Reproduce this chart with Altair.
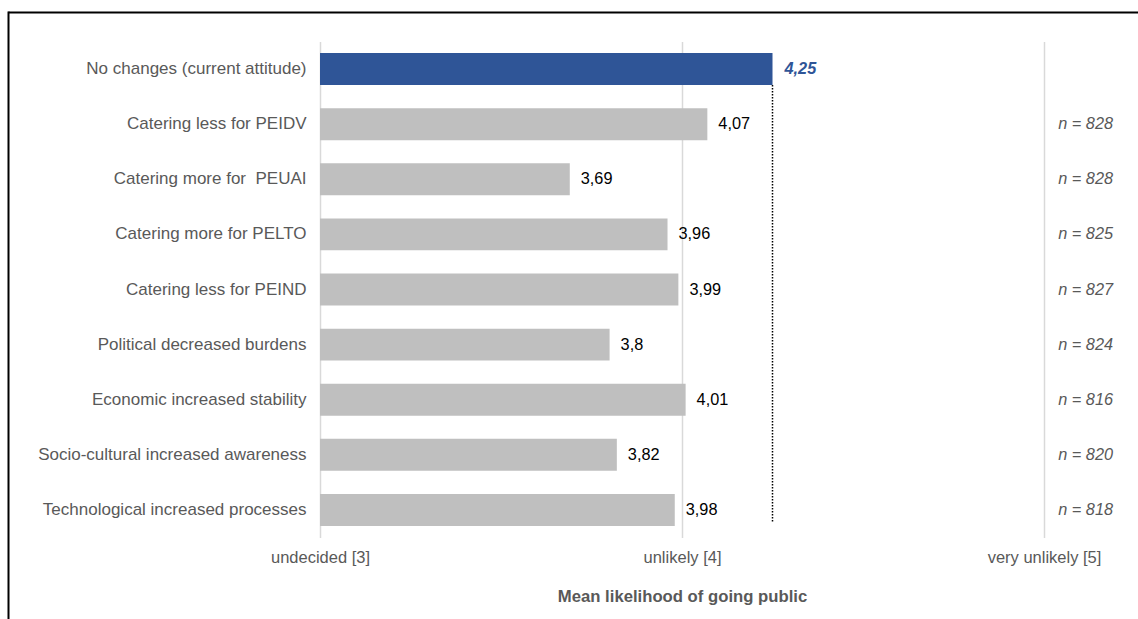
import altair as alt
import pandas as pd

categories = [
    "No changes (current attitude)",
    "Catering less for PEIDV",
    "Catering more for\u00a0 PEUAI",
    "Catering more for PELTO",
    "Catering less for PEIND",
    "Political decreased burdens",
    "Economic increased stability",
    "Socio-cultural increased awareness",
    "Technological increased processes",
]
means = [4.25, 4.07, 3.69, 3.96, 3.99, 3.80, 4.01, 3.82, 3.98]
value_labels = ["4,25", "4,07", "3,69", "3,96", "3,99", "3,8", "4,01", "3,82", "3,98"]
n_labels = ["", "n = 828", "n = 828", "n = 825", "n = 827", "n = 824", "n = 816", "n = 820", "n = 818"]
groups = ["current"] + ["other"] * 8

tick_values = [3, 4, 5]
tick_labels = ["undecided [3]", "unlikely [4]", "very unlikely [5]"]

df = pd.DataFrame({
    "category": categories,
    "mean": means,
    "label": value_labels,
    "n": n_labels,
    "group": groups,
})

label_expr = " : ".join(
    [f"datum.value == {v} ? '{l}'" for v, l in zip(tick_values, tick_labels)]
) + " : ''"

FONT = "Liberation Sans"
GREY_TXT = "#595959"

x_scale = alt.Scale(domain=[3, 5], nice=False, zero=False)
y_scale = alt.Scale(paddingInner=0.42, paddingOuter=0.21)
y_enc = alt.Y(
    "category:N",
    sort=categories,
    scale=y_scale,
    axis=alt.Axis(
        title=None, ticks=False, domain=False, labelPadding=14,
        labelFontSize=17, labelColor=GREY_TXT, labelFont=FONT, labelLimit=400,
    ),
)

base = alt.Chart(df)

bars = base.mark_bar().encode(
    x=alt.X(
        "mean:Q",
        scale=x_scale,
        axis=alt.Axis(
            values=tick_values, labelExpr=label_expr, title="Mean likelihood of going public",
            ticks=False, domain=False, grid=True, gridColor="#D9D9D9", gridWidth=1.5,
            labelFontSize=16.5, labelColor=GREY_TXT, labelFont=FONT, labelPadding=12,
            labelFlush=False, labelOverlap=False,
            titleFontSize=16.7, titleColor=GREY_TXT, titleFont=FONT, titleFontWeight="bold",
            titlePadding=22,
        ),
    ),
    x2=alt.datum(3),
    y=y_enc,
    color=alt.Color(
        "group:N",
        scale=alt.Scale(domain=["current", "other"], range=["#2F5597", "#BFBFBF"]),
        legend=None,
    ),
)

text_other = base.transform_filter(alt.datum.group == "other").mark_text(
    align="left", baseline="middle", dx=11, fontSize=16.3, font=FONT, color="#000000"
).encode(x=alt.X("mean:Q", scale=x_scale), y=y_enc, text="label:N")

text_current = base.transform_filter(alt.datum.group == "current").mark_text(
    align="left", baseline="middle", dx=12, fontSize=16.3, font=FONT, color="#2F5597",
    fontWeight="bold", fontStyle="italic",
).encode(x=alt.X("mean:Q", scale=x_scale), y=y_enc, text="label:N")

n_text = base.transform_filter(alt.datum.n != "").mark_text(
    align="right", baseline="middle", fontSize=16.3, font=FONT, color=GREY_TXT,
    fontStyle="italic",
).encode(x=alt.value(793), y=y_enc, text="n:N")

ref_rule = base.transform_filter(alt.datum.group == "current").mark_rule(
    color="#000000", strokeWidth=1.5, strokeDash=[1.5, 1.5]
).encode(
    x=alt.X("mean:Q", scale=x_scale),
    y=alt.Y("category:N", sort=categories, bandPosition=1, scale=y_scale),
    y2=alt.value(480),
)

frame_df = pd.DataFrame({"k": [0]})
frame_top = alt.Chart(frame_df).mark_rule(color="#000000", strokeWidth=2).encode(
    x=alt.value(-311.5), x2=alt.value(900), y=alt.value(-29)
)
frame_left = alt.Chart(frame_df).mark_rule(color="#000000", strokeWidth=2).encode(
    x=alt.value(-311.5), y=alt.value(-30), y2=alt.value(700)
)

chart = alt.layer(
    bars, ref_rule, text_other, text_current, n_text, frame_top, frame_left
).properties(
    width=724,
    height=496,
    autosize=alt.AutoSizeParams(type="none"),
    padding={"left": 320, "top": 41.5, "right": 94, "bottom": 81.5},
    background="#FFFFFF",
).configure_view(stroke=None)

chart.save("out.html", embed_options={"renderer": "svg", "actions": False})
